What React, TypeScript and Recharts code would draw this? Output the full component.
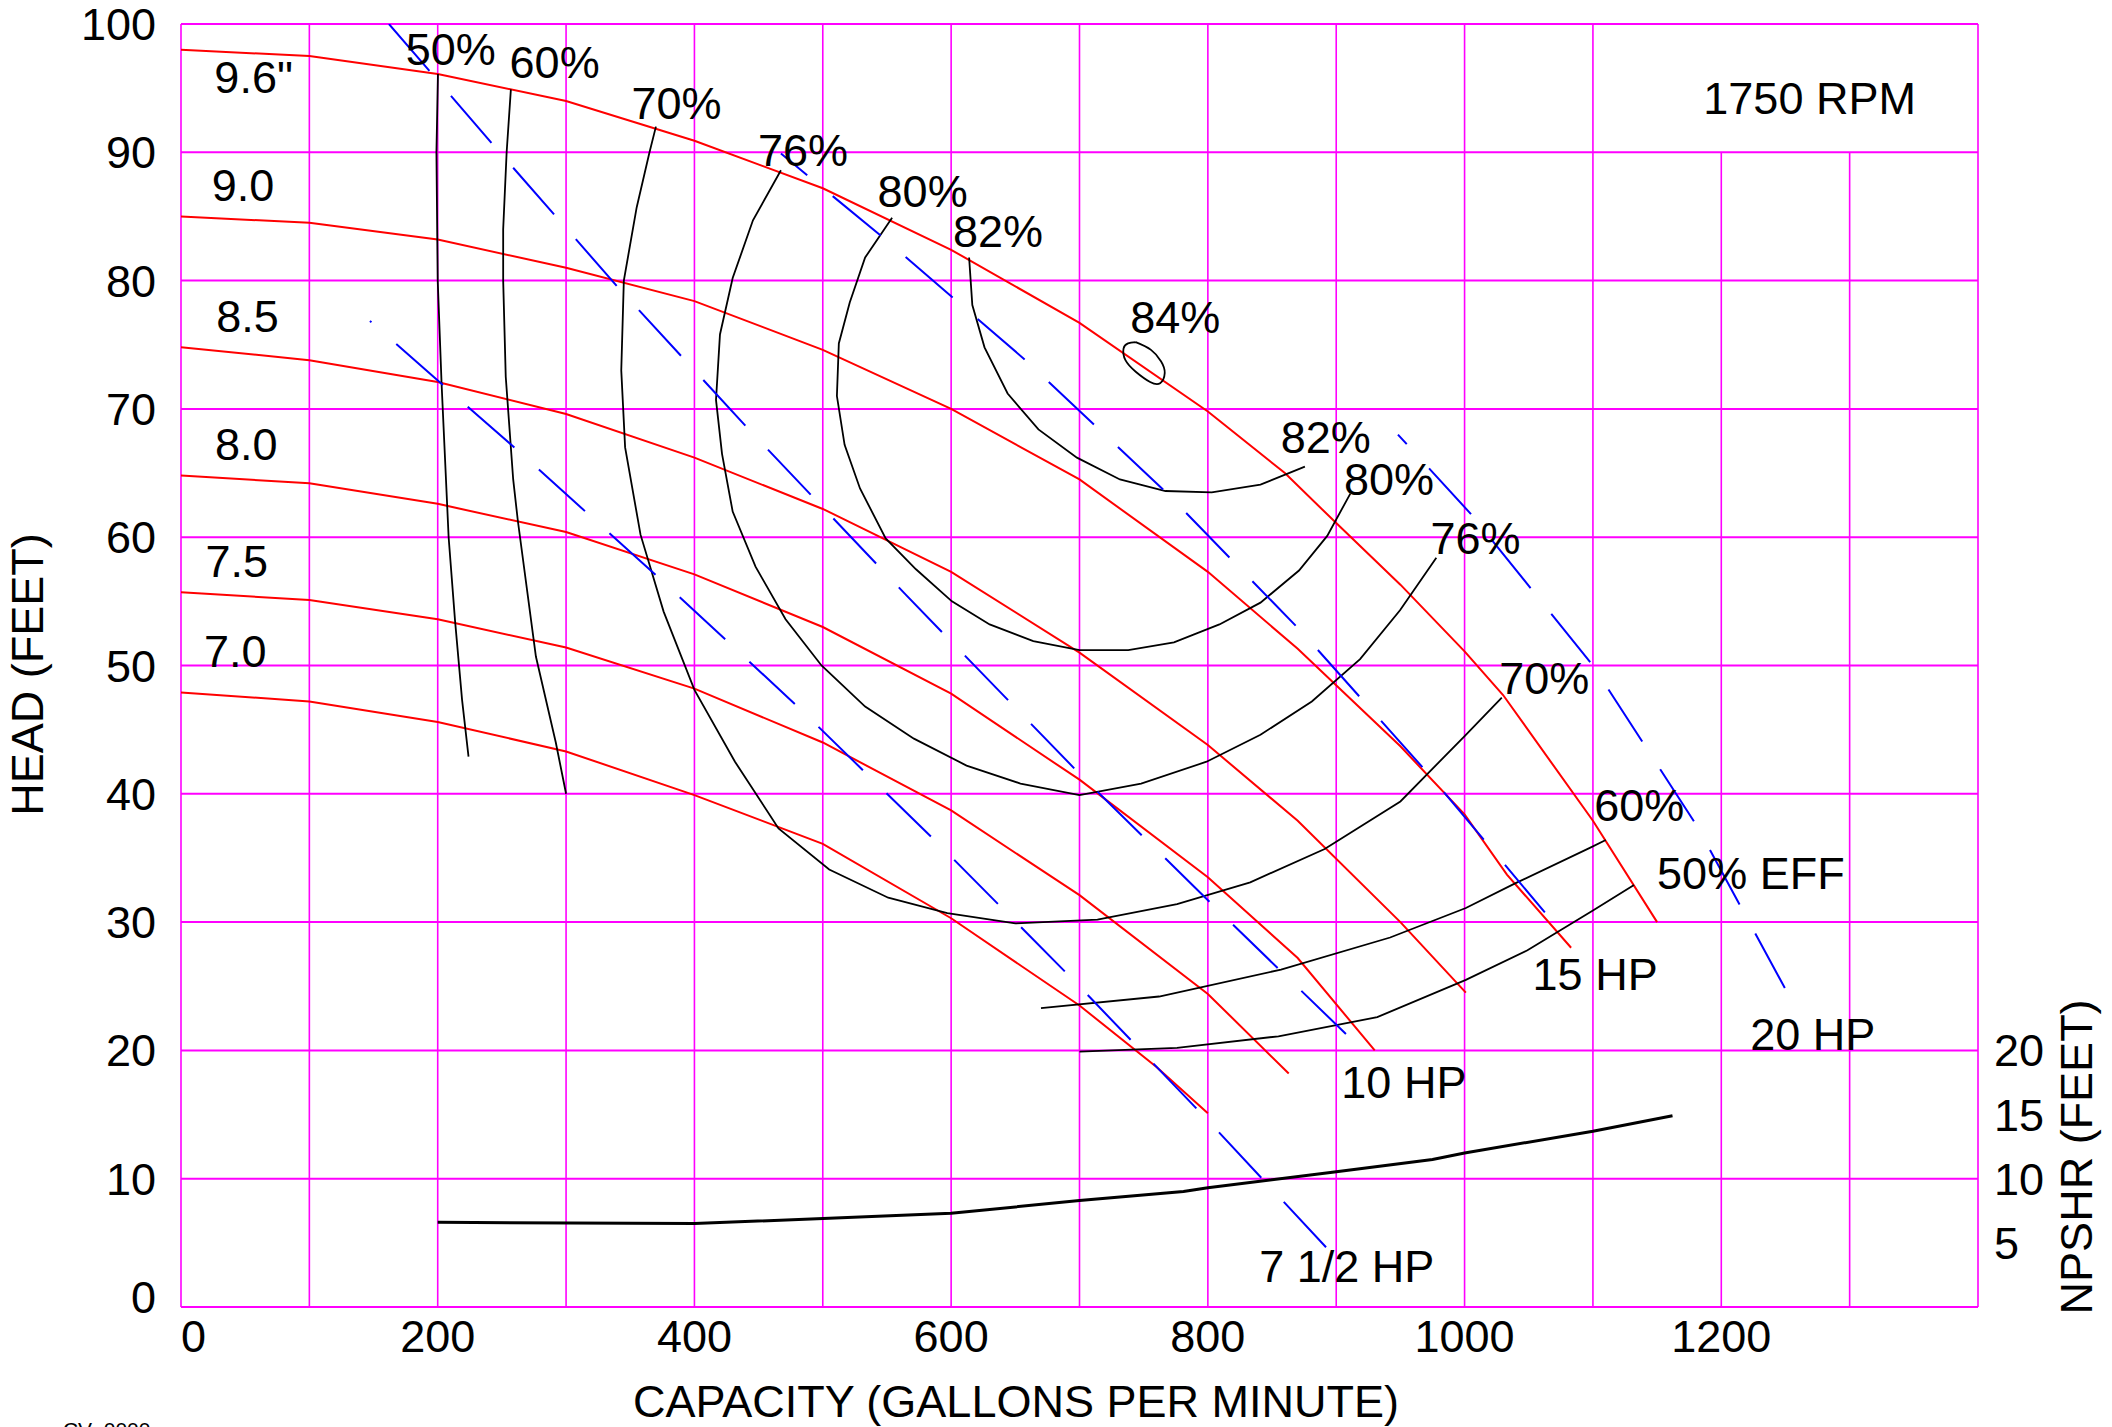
import React from "react";
import { LineChart, Line, XAxis, YAxis, ReferenceLine, ReferenceDot } from "recharts";

type Pt = { q: number; h: number };
const pts = (arr: number[][]): Pt[] => arr.map(([q, h]) => ({ q, h }));

// head-capacity curves, one per impeller diameter (gpm, feet)
const head96 = pts([[0, 98], [100, 97.5], [200, 96.1], [300, 94], [400, 90.9], [500, 87.2], [600, 82.4], [700, 76.7], [800, 69.8], [860, 65], [900, 61.1], [950, 56.3], [1000, 51.1], [1030, 47.7], [1100, 37.9], [1150, 30]]);
const head90 = pts([[0, 85], [100, 84.5], [200, 83.2], [300, 81], [400, 78.4], [500, 74.6], [600, 70], [700, 64.5], [800, 57.3], [870, 51.3], [950, 43.7], [1000, 38.4], [1033, 33.7], [1083, 28]]);
const head85 = pts([[0, 74.8], [100, 73.8], [200, 72.1], [300, 69.6], [400, 66.2], [500, 62.2], [600, 57.3], [700, 51], [800, 43.8], [870, 37.9], [950, 30], [1001, 24.5]]);
const head80 = pts([[0, 64.8], [100, 64.2], [200, 62.6], [300, 60.4], [400, 57.1], [500, 53], [600, 47.8], [700, 41.1], [800, 33.5], [870, 27.2], [930, 20]]);
const head75 = pts([[0, 55.7], [100, 55.1], [200, 53.6], [300, 51.4], [400, 48.2], [500, 44], [600, 38.7], [700, 32.1], [800, 24.4], [863, 18.2]]);
const head70 = pts([[0, 47.9], [100, 47.2], [200, 45.6], [300, 43.3], [400, 39.9], [500, 36.1], [600, 30.3], [700, 23.5], [760, 18.7], [800, 15.1]]);

// efficiency iso-lines
const eff50 = pts([[200.2, 96.1], [199, 90], [200, 80], [203, 72], [208.5, 60], [213.5, 53.5], [219, 47.3], [224, 42.9]]);
const eff60 = pts([[257, 94.9], [253.7, 90], [251, 84], [251, 80], [253, 72.5], [258.8, 64.5], [262.4, 61.3], [276.5, 50.7], [292, 44], [300, 40]]);
const eff70 = pts([[370, 92], [365, 90], [355, 85.7], [345, 80], [343, 73], [346, 67], [358, 60.2], [376, 54.2], [400, 48.1], [431.6, 42.5], [465.5, 37.3], [505, 34.1], [551, 31.9], [597, 30.7], [650, 29.9], [714, 30.2], [776, 31.4], [833, 33.1], [891, 35.7], [950, 39.4], [1001, 44.6], [1029, 47.5]]);
const eff76 = pts([[467.4, 88.6], [445.6, 84.7], [429.8, 80.2], [419.9, 75.8], [416.8, 70.7], [421.5, 66.5], [429.8, 62], [447.6, 57.7], [471, 53.6], [499, 50], [533, 46.8], [571, 44.3], [612, 42.2], [654, 40.8], [700, 39.9], [748, 40.8], [799, 42.5], [841, 44.6], [881, 47.2], [918.6, 50.5], [949.7, 54.3], [978, 58.4]]);
const eff80 = pts([[554, 84.9], [533, 81.8], [521, 78.3], [512.5, 75.1], [511, 71], [517, 67.2], [529, 63.8], [549, 59.9], [572.6, 57.5], [600.6, 55], [630, 53.2], [664, 51.9], [700, 51.2], [738, 51.2], [773.6, 51.8], [809, 53.2], [841, 54.9], [871, 57.4], [893, 60.1], [911, 63.4]]);
const eff82 = pts([[614, 81.8], [616.5, 78.1], [626, 74.8], [644, 71.2], [668, 68.4], [698, 66.2], [731.5, 64.5], [767, 63.6], [803, 63.5], [841, 64.1], [875.6, 65.5]]);
const eff84 = pts([[743.8, 75.2], [755.7, 74.6], [763.6, 73.7], [766.4, 72.8], [762.8, 72], [755, 72.1], [743.8, 72.9], [735.8, 73.8], [734.3, 74.7], [737.8, 75.1], [743.8, 75.2]]);
const eff60Low = pts([[670, 23.3], [762, 24.2], [857, 26.3], [942, 28.8], [1001, 31.1], [1039, 33], [1098, 35.8], [1110, 36.4]]);
const eff50Low = pts([[700, 19.9], [776, 20.2], [855, 21.1], [932, 22.6], [1001, 25.5], [1049, 27.8], [1100, 30.9], [1132, 32.9]]);

// horsepower lines
const hp7half = pts([[147.2, 76.85], [260.2, 66.95], [371.6, 56.9], [481.5, 46.7], [589, 36.2], [694.1, 25.6], [798.5, 14.7], [900.6, 3.74]]);
const hp10 = pts([[162, 100], [243, 90.6], [342, 79.3], [443.3, 68.3], [564.8, 55.5], [703.5, 41.2], [810.2, 30.7], [917.7, 20.3]]);
const hp15 = pts([[467.4, 89.9], [545.3, 83.5], [659.1, 73.7], [767.4, 63.5], [873.3, 52.6], [972.3, 41.5], [1069.7, 29.9]]);
const hp20 = pts([[948.1, 68], [1005, 61.8], [1100, 50], [1181, 37.5], [1252, 24.4]]);

// NPSHR (read on the right-hand scale)
const npshr = pts([[200, 6.6], [400, 6.5], [600, 7.3], [700, 8.3], [781, 9], [800, 9.3], [897, 10.5], [975, 11.5], [1000, 12], [1100, 13.7], [1162, 14.9]]);

const xTicks = [0, 200, 400, 600, 800, 1000, 1200];
const yTicks = [0, 10, 20, 30, 40, 50, 60, 70, 80, 90, 100];
const npshrTicks = [5, 10, 15, 20];
const gridQ = [0, 100, 200, 300, 400, 500, 600, 700, 800, 900, 1000, 1100, 1400];
const gridQShort = [1200, 1300];

const labels = [
  { t: "50%", q: 175, h: 96.8 },
  { t: "60%", q: 256, h: 95.8 },
  { t: "70%", q: 351, h: 92.6 },
  { t: "76%", q: 449.5, h: 88.9 },
  { t: "80%", q: 542.7, h: 85.7 },
  { t: "82%", q: 601.5, h: 82.6 },
  { t: "84%", q: 739.5, h: 75.9 },
  { t: "82%", q: 856.8, h: 66.6 },
  { t: "80%", q: 906, h: 63.3 },
  { t: "76%", q: 973.5, h: 58.7 },
  { t: "70%", q: 1027, h: 47.8 },
  { t: "60%", q: 1101, h: 37.9 },
  { t: "50% EFF", q: 1150, h: 32.6 },
  { t: "15 HP", q: 1053, h: 24.7 },
  { t: "20 HP", q: 1222.5, h: 20 },
  { t: "10 HP", q: 904, h: 16.3 },
  { t: "7 1/2 HP", q: 840, h: 1.95 },
  { t: '9.6"', q: 26, h: 94.6 },
  { t: "9.0", q: 24, h: 86.2 },
  { t: "8.5", q: 27.5, h: 76 },
  { t: "8.0", q: 26.5, h: 66 },
  { t: "7.5", q: 19, h: 56.9 },
  { t: "7.0", q: 18, h: 49.9 },
  { t: "1750 RPM", q: 1186, h: 93 },
];

const FONT = "'Liberation Sans', Arial, Helvetica, sans-serif";
const GRID = "#ff00ff";
const FS = 45;

const XTick = (p: any) => {
  const v = p.payload.value;
  return (
    <text x={p.x} y={p.y} dy={32} textAnchor={v === 0 ? "start" : "middle"} fontSize={FS} fontFamily={FONT} fill="#000">
      {v}
    </text>
  );
};

const YTick = (p: any) => {
  const v = p.payload.value;
  return (
    <text x={p.x} y={v === 0 ? p.y - 10 : p.y} dy={16} textAnchor="end" fontSize={FS} fontFamily={FONT} fill="#000">
      {v}
    </text>
  );
};

const RTick = (p: any) => (
  <text x={p.x} y={p.y} dy={16} textAnchor="start" fontSize={FS} fontFamily={FONT} fill="#000">
    {p.payload.value}
  </text>
);

export default function App() {
  const red = (d: Pt[], k: string) => (
    <Line key={k} data={d} dataKey="h" type="linear" stroke="#ff0000" strokeWidth={2} dot={false} activeDot={false} isAnimationActive={false} />
  );
  const blk = (d: Pt[], k: string, t: any = "linear") => (
    <Line key={k} data={d} dataKey="h" type={t} stroke="#000" strokeWidth={1.8} dot={false} activeDot={false} isAnimationActive={false} />
  );
  const hp = (d: Pt[], k: string, off: number) => (
    <Line key={k} data={d} dataKey="h" type="linear" stroke="#0000ff" strokeWidth={2} strokeDasharray="62 33" strokeDashoffset={off} dot={false} activeDot={false} isAnimationActive={false} />
  );

  return (
    <div style={{ position: "absolute", left: 0, top: 0, width: 2112, height: 1427, background: "#fff", overflow: "hidden" }}>
      <LineChart width={2112} height={1427} margin={{ top: 24, right: 0, bottom: 0, left: 0 }}>
        <XAxis dataKey="q" type="number" domain={[0, 1400]} ticks={xTicks} height={120} axisLine={false} tickLine={false} tickSize={0} tickMargin={13} tick={XTick} allowDataOverflow />
        <YAxis type="number" domain={[0, 100]} ticks={yTicks} width={181} axisLine={false} tickLine={false} tickSize={0} tickMargin={25} tick={YTick} allowDataOverflow />
        <YAxis yAxisId="npshr" orientation="right" type="number" domain={[0, 100]} ticks={npshrTicks} width={134} axisLine={false} tickLine={false} tickSize={0} tickMargin={16} tick={RTick} allowDataOverflow />

        {yTicks.map((h) => (
          <ReferenceLine key={"gh" + h} y={h} stroke={GRID} strokeWidth={2} ifOverflow="visible" />
        ))}
        {gridQ.map((q) => (
          <ReferenceLine key={"gv" + q} x={q} stroke={GRID} strokeWidth={1.6} ifOverflow="visible" />
        ))}
        {gridQShort.map((q) => (
          <ReferenceLine key={"gs" + q} segment={[{ x: q, y: 0 }, { x: q, y: 90 }]} stroke={GRID} strokeWidth={1.6} ifOverflow="visible" />
        ))}

        {red(head96, "h96")}
        {red(head90, "h90")}
        {red(head85, "h85")}
        {red(head80, "h80")}
        {red(head75, "h75")}
        {red(head70, "h70")}

        {blk(eff50, "e50")}
        {blk(eff60, "e60")}
        {blk(eff70, "e70")}
        {blk(eff76, "e76")}
        {blk(eff80, "e80")}
        {blk(eff82, "e82")}
        {blk(eff84, "e84", "natural")}
        {blk(eff60Low, "e60l")}
        {blk(eff50Low, "e50l")}

        {hp(hp7half, "hp75", 60)}
        {hp(hp10, "hp10", 0)}
        {hp(hp15, "hp15", 28)}
        {hp(hp20, "hp20", 49)}

        <Line yAxisId="npshr" data={npshr} dataKey="h" type="linear" stroke="#000" strokeWidth={3} dot={false} activeDot={false} isAnimationActive={false} />

        {labels.map((l, i) => (
          <ReferenceDot
            key={"lb" + i}
            x={l.q}
            y={l.h}
            r={0}
            ifOverflow="visible"
            shape={(p: any) => (
              <text x={p.cx} y={p.cy} fontSize={FS} fontFamily={FONT} fill="#000">
                {l.t}
              </text>
            )}
          />
        ))}

        <ReferenceDot
          x={-107.5}
          y={49.3}
          r={0}
          ifOverflow="visible"
          shape={(p: any) => (
            <text x={p.cx} y={p.cy} transform={`rotate(-90 ${p.cx} ${p.cy})`} textAnchor="middle" fontSize={FS} fontFamily={FONT} fill="#000">
              HEAD (FEET)
            </text>
          )}
        />
        <ReferenceDot
          x={1489}
          y={11.7}
          r={0}
          ifOverflow="visible"
          shape={(p: any) => (
            <text x={p.cx} y={p.cy} transform={`rotate(-90 ${p.cx} ${p.cy})`} textAnchor="middle" fontSize={FS} fontFamily={FONT} fill="#000">
              NPSHR (FEET)
            </text>
          )}
        />
        <ReferenceDot
          x={650.5}
          y={-8.57}
          r={0}
          ifOverflow="visible"
          shape={(p: any) => (
            <text x={p.cx} y={p.cy} textAnchor="middle" fontSize={FS} fontFamily={FONT} fill="#000">
              CAPACITY (GALLONS PER MINUTE)
            </text>
          )}
        />
        <ReferenceDot
          x={-92}
          y={-10.1}
          r={0}
          ifOverflow="visible"
          shape={(p: any) => (
            <text x={p.cx} y={p.cy} fontSize={21} fontFamily={FONT} fill="#000">
              CV- 0000
            </text>
          )}
        />
      </LineChart>
    </div>
  );
}
